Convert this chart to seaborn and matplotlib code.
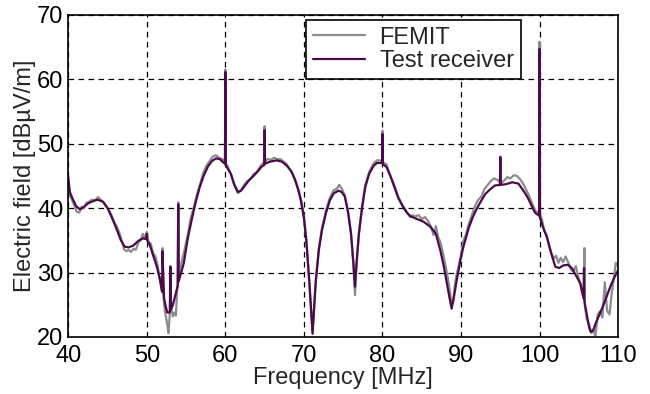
import numpy as np
import pandas as pd
import seaborn as sns
import matplotlib
matplotlib.use("Agg")
import matplotlib.pyplot as plt

# ---- data ----
femit_f = [40.0, 40.2, 40.5, 40.8, 41.1, 41.4, 41.7, 42.0, 42.3, 42.7, 43.0, 43.4, 43.8, 44.2, 44.6,
           45.0, 45.4, 45.8, 46.2, 46.5, 46.8, 47.1, 47.4, 47.7, 48.0, 48.3, 48.6, 48.9, 49.2, 49.5,
           49.7, 50.0, 50.2, 50.5, 50.8, 51.1, 51.4, 51.7, 51.95, 52.0, 52.05, 52.3, 52.6, 52.75, 52.9,
           53.0, 53.1, 53.3, 53.5, 53.7, 53.9, 54.0, 54.1, 54.4, 54.8, 55.2, 55.6, 56.0, 56.4, 56.8,
           57.2, 57.6, 58.0, 58.4, 58.8, 59.2, 59.6, 59.95, 60.0, 60.05, 60.4, 60.8, 61.2, 61.6, 62.0,
           62.4, 62.8, 63.2, 63.6, 64.0, 64.4, 64.8, 64.95, 65.0, 65.05, 65.4, 65.8, 66.2, 66.6, 67.0,
           67.4, 67.8, 68.2, 68.6, 69.0, 69.4, 69.7, 70.0, 70.3, 70.7, 71.1, 71.5, 71.9, 72.3, 72.8,
           73.3, 73.8, 74.2, 74.5, 74.9, 75.2, 75.6, 76.0, 76.3, 76.5, 76.7, 77.0, 77.4, 77.8, 78.3,
           78.9, 79.3, 79.7, 79.95, 80.0, 80.05, 80.5, 81.0, 81.5, 82.0, 82.4, 82.8, 83.2, 83.5, 83.8,
           84.2, 84.6, 85.0, 85.4, 85.8, 86.2, 86.5, 86.8, 87.1, 87.4, 87.7, 88.0, 88.3, 88.6, 88.8,
           89.0, 89.2, 89.4, 89.7, 90.0, 90.3, 90.6, 91.0, 91.4, 91.8, 92.2, 92.6, 93.0, 93.4, 93.8,
           94.2, 94.6, 94.95, 95.0, 95.05, 95.5, 95.9, 96.3, 96.7, 97.1, 97.5, 97.9, 98.3, 98.7, 99.1,
           99.5, 99.95, 100.0, 100.05, 100.3, 100.6, 100.9, 101.2, 101.5, 101.8, 102.1, 102.4, 102.7,
           103.0, 103.3, 103.7, 104.0, 104.3, 104.6, 104.9, 105.2, 105.5, 105.65, 105.7, 105.75, 106.0,
           106.3, 106.6, 106.9, 107.1, 107.4, 107.7, 108.0, 108.3, 108.6, 108.9, 109.2, 109.5, 109.7,
           110.0]
femit_db = [44.0, 42.0, 41.2, 40.3, 39.4, 39.3, 40.2, 40.0, 40.8, 41.0, 41.3, 41.2, 41.7, 41.2, 40.8,
            40.0, 39.2, 38.0, 37.1, 36.2, 35.0, 33.6, 33.3, 33.5, 33.2, 33.7, 33.5, 34.6, 35.0, 36.0,
            35.2, 36.3, 34.8, 34.5, 33.0, 32.5, 31.0, 28.5, 27.5, 33.8, 27.2, 24.0, 22.0, 20.6, 23.0,
            31.0, 24.5, 23.2, 23.8, 23.3, 28.0, 40.9, 29.2, 31.5, 33.5, 35.8, 38.5, 40.2, 42.2, 43.8,
            45.5, 46.6, 47.3, 48.0, 48.2, 47.8, 47.6, 47.3, 61.5, 47.0, 46.2, 45.0, 43.5, 42.3, 42.8,
            43.6, 44.2, 44.5, 45.3, 45.6, 46.4, 47.0, 47.0, 52.7, 47.3, 47.6, 47.5, 47.8, 47.6, 47.6,
            47.2, 46.8, 46.0, 45.2, 44.0, 42.5, 41.0, 38.5, 35.2, 28.2, 20.8, 28.8, 33.8, 36.9, 39.6,
            41.6, 42.8, 43.0, 43.6, 42.8, 42.0, 39.6, 36.0, 31.0, 26.5, 31.2, 36.2, 40.3, 43.5, 45.6,
            47.0, 47.4, 47.4, 47.2, 52.0, 47.1, 46.8, 45.0, 43.6, 41.8, 40.8, 40.0, 39.2, 38.6, 38.9,
            38.7, 38.9, 38.3, 38.6, 38.0, 37.0, 35.8, 37.2, 35.5, 34.6, 33.0, 31.2, 29.3, 27.0, 25.0,
            25.6, 28.0, 29.5, 31.0, 32.8, 35.0, 35.8, 37.6, 39.0, 40.4, 41.3, 41.8, 43.0, 43.6, 44.2,
            44.6, 44.4, 44.0, 48.0, 43.8, 44.3, 44.8, 44.6, 45.1, 45.0, 44.5, 43.8, 42.8, 41.8, 40.6,
            39.5, 39.3, 65.8, 39.0, 38.2, 36.5, 35.8, 34.2, 33.0, 32.2, 32.6, 31.5, 32.3,
            31.6, 32.5, 31.4, 30.4, 30.2, 31.0, 29.5, 28.0, 26.5, 26.0, 33.8, 25.0, 22.8,
            22.0, 20.6, 21.0, 20.0, 23.5, 24.0, 23.0, 28.5, 24.0, 23.5, 27.0, 29.5, 31.5,
            31.0]

test_f = [40.0, 40.2, 40.5, 41.0, 41.5, 42.0, 42.5, 43.0, 43.7, 44.4, 45.0, 45.6, 46.2, 46.7, 47.2,
          47.7, 48.3, 48.9, 49.5, 49.95, 50.0, 50.05, 50.4, 50.9, 51.3, 51.7, 51.9, 51.95, 52.0, 52.2,
          52.4, 52.6, 52.9, 52.95, 53.0, 53.05, 53.3, 53.6, 53.95, 54.0, 54.05, 54.7, 55.2, 55.7, 56.2,
          56.7, 57.2, 57.8, 58.3, 58.8, 59.3, 59.7, 59.95, 60.0, 60.05, 60.4, 60.7, 61.1, 61.6, 62.0,
          62.5, 63.0, 63.6, 64.2, 64.6, 64.95, 65.0, 65.05, 65.7, 66.5, 67.2, 67.8, 68.4, 68.9, 69.3,
          69.6, 70.0, 70.3, 70.7, 71.1, 71.5, 71.9, 72.3, 72.8, 73.3, 73.8, 74.4, 74.8, 75.2, 75.6,
          76.0, 76.3, 76.5, 76.7, 77.0, 77.4, 77.8, 78.3, 78.9, 79.3, 79.7, 79.95, 80.0, 80.05, 80.5,
          81.0, 81.5, 82.0, 82.6, 83.1, 83.6, 84.4, 85.2, 86.1, 86.8, 87.35, 87.8, 88.2, 88.5, 88.8,
          89.1, 89.45, 89.9, 90.3, 91.0, 91.5, 92.0, 92.6, 93.1, 93.7, 94.3, 94.95, 95.0, 95.05, 95.7,
          96.5, 97.3, 98.0, 98.5, 99.0, 99.4, 99.95, 100.0, 100.05, 100.5, 100.9, 101.5, 102.0, 102.5,
          103.0, 103.6, 104.1, 104.6, 105.2, 105.6, 105.65, 105.7, 106.0, 106.3, 106.5, 106.8, 107.2,
          107.7, 108.3, 109.0, 109.5, 110.0]
test_db = [44.8, 42.5, 41.6, 40.3, 39.8, 40.2, 40.7, 41.0, 41.3, 41.0, 40.0, 38.4, 36.6, 35.0, 34.0,
           33.9, 34.2, 34.9, 35.3, 35.2, 36.0, 35.0, 34.2, 32.3, 30.8, 28.8, 27.2, 27.0, 33.3, 26.0,
           24.8, 23.8, 23.8, 24.0, 30.9, 24.2, 24.9, 26.3, 28.0, 40.6, 28.6, 31.4, 35.2, 38.1, 40.8,
           43.1, 44.9, 46.5, 47.3, 47.7, 47.6, 47.1, 46.9, 61.1, 46.7, 45.9, 45.3, 43.7, 42.5, 42.7,
           43.5, 44.3, 45.0, 45.8, 46.4, 46.7, 52.1, 46.9, 47.2, 47.4, 47.2, 46.6, 45.7, 44.3, 42.7,
           41.2, 38.5, 35.0, 28.4, 20.5, 28.4, 33.5, 36.6, 39.2, 41.2, 42.3, 42.7, 42.5, 41.8, 39.5,
           36.0, 31.5, 27.8, 31.5, 36.0, 40.0, 43.2, 45.3, 46.6, 47.0, 47.0, 47.0, 51.5, 46.8, 46.4,
           45.0, 43.3, 41.6, 40.2, 39.3, 38.7, 38.3, 37.9, 37.1, 36.0, 33.5, 31.0, 28.3, 26.3, 24.4,
           26.2, 28.8, 31.8, 34.0, 37.0, 38.6, 39.9, 41.2, 42.2, 42.9, 43.5, 43.6, 47.9, 43.6, 43.7,
           44.0, 43.8, 42.6, 41.6, 40.3, 39.3, 38.8, 64.7, 38.5, 36.8, 35.6, 32.9, 30.9, 30.7,
           31.1, 31.2, 30.7, 29.6, 28.3, 26.0, 30.7, 25.6, 23.5, 21.5, 20.8, 21.0, 22.3,
           23.7, 25.5, 27.8, 29.2, 30.4]

series_names = ["FEMIT", "Test receiver"]
x_ticks = [40, 50, 60, 70, 80, 90, 100, 110]
y_ticks = [20, 30, 40, 50, 60, 70]

df = pd.concat([
    pd.DataFrame({"Frequency": femit_f, "Field": femit_db, "Series": series_names[0]}),
    pd.DataFrame({"Frequency": test_f, "Field": test_db, "Series": series_names[1]}),
], ignore_index=True)

sns.set_style("ticks")
plt.rcParams["font.family"] = ["Liberation Sans", "DejaVu Sans"]

fig = plt.figure(figsize=(6.5, 3.94), dpi=100)
ax = fig.add_axes([0.105, 0.1447, 0.846, 0.818])

palette = {"FEMIT": "#8c8c8c", "Test receiver": "#4b0a4b"}
sns.lineplot(data=df, x="Frequency", y="Field", hue="Series", palette=palette,
             hue_order=series_names, linewidth=1.6, ax=ax, sort=False, estimator=None)

ax.set_xlim(40, 110)
ax.set_ylim(20, 70)
ax.set_xticks(x_ticks)
ax.set_yticks(y_ticks)
ax.grid(True, color="black", linestyle=(0, (4.5, 3.5)), linewidth=0.9)
ax.set_axisbelow(True)
for s in ax.spines.values():
    s.set_visible(True)
    s.set_color("black")
    s.set_linewidth(1.2)
ax.tick_params(axis="x", direction="in", length=0, labelsize=17, pad=5.5, colors="black")
ax.tick_params(axis="y", direction="in", length=0, labelsize=17, pad=3.5, colors="black")
ax.set_xlabel("Frequency [MHz]", fontsize=17, labelpad=0)
ax.set_ylabel("Electric field [dBµV/m]", fontsize=17, labelpad=1)

leg = ax.legend(loc="upper left", bbox_to_anchor=(0.433, 0.985), borderaxespad=0,
                fontsize=17, frameon=True, fancybox=False, framealpha=1,
                edgecolor="black", handlelength=2.2, handletextpad=0.6,
                labelspacing=0.05, borderpad=0.3)
leg.get_frame().set_linewidth(1.2)

fig.savefig("out.png", dpi=100)
